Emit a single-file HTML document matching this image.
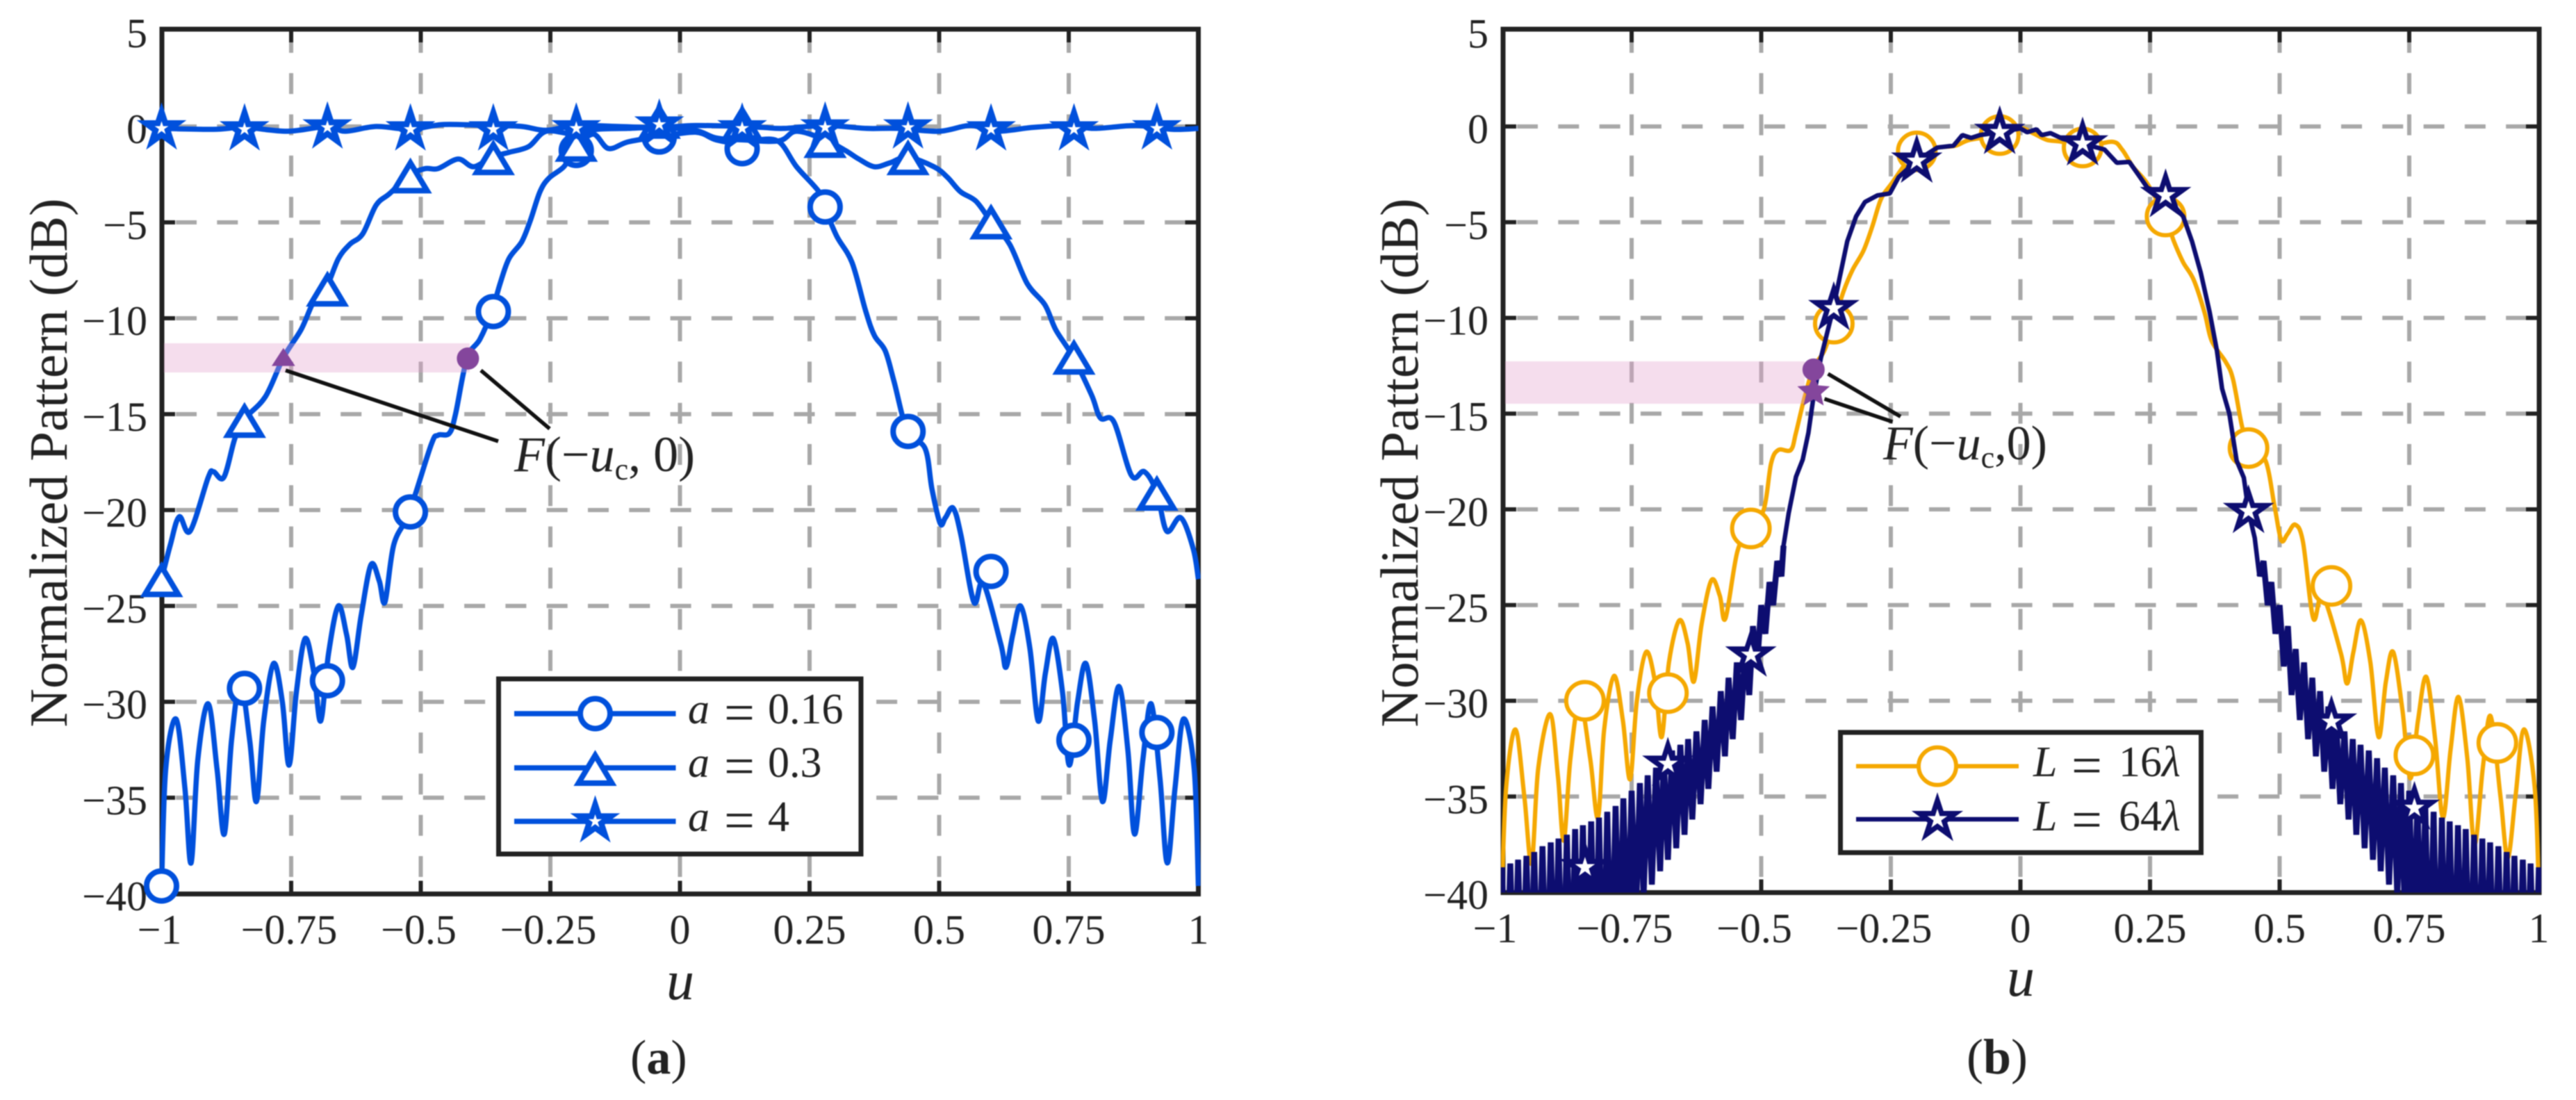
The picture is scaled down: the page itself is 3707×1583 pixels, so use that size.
<!DOCTYPE html>
<html lang="en">
<head>
<meta charset="utf-8">
<title>Normalized Pattern charts</title>
<style>
html,body{margin:0;padding:0;background:#fff;width:3707px;height:1583px;overflow:hidden}
svg{display:block;position:absolute;left:0;top:0;filter:blur(0.9px)}
text{font-family:"Liberation Serif",serif;fill:#222}
</style>
</head>
<body>
<svg id="figure" xmlns="http://www.w3.org/2000/svg" width="3707" height="1583" viewBox="0 0 3707 1583">
<rect width="3707" height="1583" fill="#fff"/>
</svg>
<script>
const xTicks = [-1,-0.75,-0.5,-0.25,0,0.25,0.5,0.75,1];
const xTickLabels = ['\u22121','\u22120.75','\u22120.5','\u22120.25','0','0.25','0.5','0.75','1'];
const yTicks = [5,0,-5,-10,-15,-20,-25,-30,-35,-40];
const yTickLabels = ['5','0','\u22125','\u221210','\u221215','\u221220','\u221225','\u221230','\u221235','\u221240'];
const markerU = [-1,-0.84,-0.68,-0.52,-0.36,-0.2,-0.04,0.12,0.28,0.44,0.6,0.76,0.92];

const a016U = [-1,-0.992,-0.972,-0.955,-0.943,-0.93,-0.91,-0.893,-0.879,-0.865,-0.848,-0.83,-0.817,-0.803,-0.784,-0.767,-0.754,-0.74,-0.723,-0.706,-0.693,-0.678,-0.659,-0.643,-0.631,-0.615,-0.596,-0.58,-0.569,-0.552,-0.522,-0.48,-0.467,-0.445,-0.433,-0.411,-0.386,-0.363,-0.347,-0.33,-0.305,-0.288,-0.27,-0.253,-0.224,-0.204,-0.168,-0.138,-0.1,-0.043,0.03,0.07,0.119,0.15,0.191,0.225,0.268,0.279,0.302,0.332,0.358,0.375,0.396,0.413,0.439,0.473,0.486,0.502,0.512,0.527,0.542,0.567,0.585,0.619,0.629,0.642,0.657,0.675,0.691,0.705,0.72,0.738,0.751,0.767,0.783,0.8,0.815,0.83,0.847,0.864,0.877,0.893,0.909,0.926,0.94,0.955,0.971,0.992,1];
const a016Db = [-39.6,-33.5,-30.9,-34.5,-38.4,-33,-30.1,-33.5,-36.9,-32,-29,-32,-35.2,-31,-28,-30,-33.3,-29.5,-26.7,-28.5,-31,-27.5,-25,-26.5,-28.2,-25.5,-22.85,-23.7,-24.8,-21.8,-20.1,-16.6,-16.1,-16,-15,-12.1,-11.1,-9.65,-8.2,-6.9,-6,-4.85,-3.4,-2.7,-2.1,-1.25,-0.4,-1.15,-0.8,-0.55,-0.3,-0.7,-0.9,-0.7,-0.8,-2.1,-3.4,-4.2,-5.7,-7.1,-9.6,-10.9,-11.7,-13.3,-15.9,-16.8,-18.9,-20.7,-20.4,-19.9,-21.3,-24.8,-23.8,-27,-28.2,-26.5,-25,-27.2,-31,-28.5,-26.7,-29.5,-33.3,-30,-28,-31,-35.2,-32,-29.2,-32.5,-36.9,-33,-30.1,-34,-38.4,-34.5,-30.9,-33.5,-39.6];
const a016Markers = [-39.6,-29.3,-28.9,-20.1,-9.65,-1.25,-0.55,-1.16,-4.2,-15.9,-23.2,-32,-31.6];

const a03U = [-1,-0.983,-0.966,-0.945,-0.91,-0.9,-0.88,-0.859,-0.842,-0.8,-0.765,-0.731,-0.706,-0.683,-0.659,-0.637,-0.612,-0.586,-0.56,-0.522,-0.492,-0.467,-0.428,-0.398,-0.363,-0.33,-0.292,-0.258,-0.204,-0.16,-0.1,-0.043,0.029,0.07,0.12,0.191,0.225,0.28,0.319,0.345,0.375,0.405,0.439,0.49,0.516,0.541,0.571,0.6,0.636,0.67,0.704,0.725,0.758,0.794,0.811,0.837,0.871,0.896,0.92,0.939,0.966,0.99,1];
const a03Db = [-23.6,-21.8,-20.35,-21.1,-18.3,-18,-18.3,-16.3,-15.3,-14.1,-12.05,-10.6,-9.1,-8.45,-6.9,-6.15,-5.6,-4.1,-3.5,-2.55,-2.2,-2.2,-1.7,-2.1,-1.6,-1.35,-1.05,-0.25,-0.4,-0.15,-0.1,-0.05,-0.2,-0.6,-0.7,-0.75,-0.25,-0.7,-1.25,-1.7,-2.1,-1.9,-1.6,-2.1,-2.65,-3.4,-3.9,-4.95,-6.15,-8.2,-9.3,-10.6,-12,-14,-15.2,-15.4,-18.2,-18,-19.1,-21.1,-20.4,-22,-23.6];
const a03Markers = [-23.6,-15.3,-8.45,-2.55,-1.6,-0.9,0.3,0.2,-0.7,-1.6,-4.95,-12,-19.1];

const a4U = [-1,-0.9,-0.84,-0.757,-0.68,-0.646,-0.586,-0.52,-0.458,-0.37,-0.305,-0.258,-0.2,-0.12,-0.04,0.03,0.12,0.16,0.2,0.28,0.36,0.42,0.5,0.56,0.61,0.68,0.75,0.8,0.88,0.95,1];
const a4Db = [-0.1,-0.15,-0.05,-0.25,0,-0.25,0,-0.15,0.1,0.05,0,-0.2,0.05,0,-0.05,0.05,0,-0.05,-0.1,0.05,-0.1,-0.1,-0.25,0.05,-0.25,-0.05,0.05,-0.1,0.05,-0.15,-0.1];
const a4Markers = [-0.1,-0.15,-0.05,-0.15,-0.15,-0.1,0.1,-0.1,-0.05,-0.05,-0.15,-0.15,-0.1];

const orangeU = [-1,-0.992,-0.974,-0.957,-0.943,-0.93,-0.907,-0.892,-0.881,-0.868,-0.85,-0.83,-0.815,-0.803,-0.784,-0.767,-0.753,-0.74,-0.722,-0.705,-0.692,-0.678,-0.658,-0.642,-0.63,-0.615,-0.596,-0.58,-0.569,-0.546,-0.522,-0.495,-0.481,-0.467,-0.443,-0.433,-0.416,-0.399,-0.378,-0.361,-0.341,-0.324,-0.303,-0.286,-0.269,-0.249,-0.201,-0.16,-0.125,-0.098,-0.041,0,0.024,0.051,0.079,0.119,0.176,0.196,0.217,0.245,0.279,0.296,0.314,0.334,0.355,0.369,0.396,0.41,0.427,0.44,0.472,0.49,0.503,0.515,0.53,0.545,0.565,0.583,0.618,0.63,0.642,0.657,0.675,0.691,0.705,0.719,0.737,0.752,0.767,0.783,0.8,0.815,0.83,0.845,0.862,0.876,0.892,0.907,0.926,0.94,0.955,0.971,0.992,1];
const orangeDb = [-39.9,-34.5,-31.5,-35,-38.5,-33.5,-30.7,-34,-37.3,-33,-30,-33,-36.1,-31.5,-28.7,-31,-34.1,-30,-27.45,-29,-31.9,-28,-25.8,-27,-29,-26,-23.7,-24.5,-25.7,-22.2,-21,-20,-17.6,-16.9,-16.9,-16,-14.1,-12.6,-11.7,-10.3,-8.6,-7.5,-6.5,-5.25,-3.8,-3,-1.3,-1.1,-1,-0.7,-0.45,-0.1,-0.35,-0.7,-0.8,-1.1,-0.8,-1.2,-2.1,-3,-4.7,-6,-7.1,-8,-9.7,-11.2,-12.3,-13.2,-15.6,-16.8,-17.4,-19.8,-21.6,-21.3,-20.8,-21.7,-25.7,-24.5,-27.5,-29.1,-27.5,-25.8,-28,-31.9,-29,-27.45,-30.5,-34.05,-31,-28.75,-32,-36.1,-32.5,-29.8,-33,-37.5,-33.5,-30.8,-35,-38.2,-35,-31.5,-34.5,-39.9];
const orangeMarkers = [-41.5,-30,-29.6,-21,-10.3,-1.3,-0.45,-1.1,-4.7,-16.8,-24,-32.85,-32.2];

const navyU = [-1,-0.992,-0.984,-0.977,-0.969,-0.961,-0.953,-0.945,-0.938,-0.93,-0.922,-0.914,-0.906,-0.898,-0.891,-0.883,-0.875,-0.867,-0.859,-0.852,-0.844,-0.836,-0.828,-0.82,-0.813,-0.805,-0.797,-0.789,-0.781,-0.773,-0.766,-0.758,-0.75,-0.742,-0.734,-0.727,-0.719,-0.711,-0.703,-0.695,-0.688,-0.68,-0.672,-0.664,-0.656,-0.648,-0.641,-0.633,-0.625,-0.617,-0.609,-0.602,-0.594,-0.586,-0.578,-0.57,-0.563,-0.555,-0.547,-0.539,-0.531,-0.523,-0.516,-0.508,-0.5,-0.492,-0.484,-0.477,-0.469,-0.461,-0.457,-0.447,-0.433,-0.42,-0.409,-0.399,-0.385,-0.361,-0.348,-0.334,-0.317,-0.3,-0.276,-0.252,-0.235,-0.201,-0.16,-0.129,-0.112,-0.095,-0.078,-0.041,0,0.013,0.031,0.041,0.058,0.082,0.119,0.162,0.186,0.21,0.227,0.245,0.279,0.314,0.331,0.348,0.365,0.379,0.389,0.403,0.417,0.431,0.44,0.452,0.461,0.469,0.477,0.484,0.492,0.5,0.508,0.516,0.523,0.531,0.539,0.547,0.555,0.563,0.57,0.578,0.586,0.594,0.602,0.609,0.617,0.625,0.633,0.641,0.648,0.656,0.664,0.672,0.68,0.688,0.695,0.703,0.711,0.719,0.727,0.734,0.742,0.75,0.758,0.766,0.773,0.781,0.789,0.797,0.805,0.813,0.82,0.828,0.836,0.844,0.852,0.859,0.867,0.875,0.883,0.891,0.898,0.906,0.914,0.922,0.93,0.938,0.945,0.953,0.961,0.969,0.977,0.984,0.992,1];
const navyDb = [-38.7,-46,-38.5,-46,-38.3,-46,-38.1,-46,-37.9,-46,-37.6,-46,-37.4,-46,-37.2,-46,-37,-46,-36.7,-46,-36.5,-46,-36.3,-46,-36.1,-46,-35.8,-45,-35.5,-44,-35.1,-43,-34.7,-41.5,-34.3,-40.2,-33.9,-39.6,-33.5,-38.9,-33,-38.3,-32.6,-37.7,-32.3,-37,-32,-36.2,-31.6,-35.4,-31,-34.6,-30.3,-33.7,-29.5,-32.9,-28.8,-32,-28,-31,-27.3,-29.7,-26.1,-28.2,-25,-26.5,-23.8,-25,-22.7,-23.5,-21.9,-20.2,-18.3,-17.4,-16,-14.1,-12.1,-9.5,-7.8,-6,-4.7,-3.95,-3.6,-3.5,-2.65,-1.8,-1.1,-1,-0.45,-0.6,-0.45,-0.3,-0.1,-0.3,-0.15,-0.45,-0.35,-0.65,-0.9,-1.2,-1.9,-1.85,-2.5,-3.2,-3.6,-4.7,-6,-7.65,-9.7,-11.7,-13.7,-15,-17.45,-18.35,-20.1,-21.5,-23.5,-22.7,-25,-23.8,-26.5,-25,-28.2,-26.1,-29.7,-27.3,-31,-28,-32,-28.8,-32.9,-29.5,-33.7,-30.3,-34.6,-31,-35.4,-31.6,-36.2,-32,-37,-32.3,-37.7,-32.6,-38.3,-33,-38.9,-33.5,-39.6,-33.9,-40.2,-34.3,-41.5,-34.7,-43,-35.1,-44,-35.5,-45,-35.8,-46,-36.1,-46,-36.3,-46,-36.5,-46,-36.7,-46,-37,-46,-37.2,-46,-37.4,-46,-37.6,-46,-37.9,-46,-38.1,-46,-38.3,-46,-38.5,-46,-38.7];
const navyMarkers = [-41.5,-38.7,-33.3,-27.6,-9.5,-1.8,-0.3,-0.9,-3.6,-20.1,-31.1,-35.6,-41.5];

const SVGNS = 'http://www.w3.org/2000/svg';
const root = document.getElementById('figure');
const BLUE = '#0050dc', ORANGE = '#f5a800', NAVY = '#0d0d70', PURPLE = '#84469c';

function el(parent, tag, attrs, txt) {
  const n = document.createElementNS(SVGNS, tag);
  for (const k in attrs) n.setAttribute(k, attrs[k]);
  if (txt !== undefined) n.textContent = txt;
  parent.appendChild(n);
  return n;
}
function smooth(pts) {
  let d = 'M' + pts[0][0].toFixed(1) + ' ' + pts[0][1].toFixed(1);
  for (let i = 0; i < pts.length - 1; i++) {
    const p0 = pts[Math.max(i - 1, 0)], p1 = pts[i], p2 = pts[i + 1], p3 = pts[Math.min(i + 2, pts.length - 1)];
    const c1x = p1[0] + (p2[0] - p0[0]) / 6, c1y = p1[1] + (p2[1] - p0[1]) / 6;
    const c2x = p2[0] - (p3[0] - p1[0]) / 6, c2y = p2[1] - (p3[1] - p1[1]) / 6;
    d += 'C' + c1x.toFixed(1) + ' ' + c1y.toFixed(1) + ' ' + c2x.toFixed(1) + ' ' + c2y.toFixed(1) + ' ' + p2[0].toFixed(1) + ' ' + p2[1].toFixed(1);
  }
  return d;
}
function poly(pts) {
  return 'M' + pts.map(p => p[0].toFixed(1) + ' ' + p[1].toFixed(1)).join('L');
}
function starPts(cx, cy, R, r) {
  const p = [];
  for (let i = 0; i < 10; i++) {
    const ang = -Math.PI / 2 + i * Math.PI / 5, rad = i % 2 ? r : R;
    p.push((cx + rad * Math.cos(ang)).toFixed(1) + ',' + (cy + rad * Math.sin(ang)).toFixed(1));
  }
  return p.join(' ');
}
function triPts(cx, cy, hw, up, down) {
  return cx + ',' + (cy - up) + ' ' + (cx + hw) + ',' + (cy + down) + ' ' + (cx - hw) + ',' + (cy + down);
}
function drawMarker(g, kind, cx, cy, color, sw, scale) {
  let m;
  if (kind === 'circle') {
    m = el(g, 'circle', {cx: cx, cy: cy, r: scale, fill: '#fff', stroke: color, 'stroke-width': sw});
  } else if (kind === 'triangle') {
    m = el(g, 'polygon', {points: triPts(cx, cy, scale, 18, 22), fill: '#fff', stroke: color, 'stroke-width': sw});
  } else {
    m = el(g, 'polygon', {points: starPts(cx, cy, scale, scale * 0.382), fill: '#fff', stroke: color, 'stroke-width': sw, 'stroke-miterlimit': 8});
  }
  return m;
}

function drawPanel(cfg) {
  const xs = u => cfg.x0 + cfg.xk * u;
  const ys = v => cfg.y0 - cfg.yk * v;
  const g = el(root, 'g', {});
  
  
  const clipId = cfg.id + '-clip';
  const defs = el(g, 'defs', {});
  const cp = el(defs, 'clipPath', {id: clipId});
  el(cp, 'rect', {x: cfg.left - 3, y: cfg.top, width: cfg.right - cfg.left + 6, height: cfg.bottom - cfg.top});

  const gridG = el(g, 'g', {stroke: '#a8a8a8', 'stroke-width': 6, 'stroke-dasharray': '30 29.3', fill: 'none'});
  
  
  xTicks.slice(1, -1).forEach(t => {
    const ln = el(gridG, 'line', {x1: xs(t), x2: xs(t), y1: cfg.top + 4, y2: cfg.bottom});
    
    
  });
  yTicks.slice(1, -1).forEach(t => {
    const ln = el(gridG, 'line', {x1: cfg.left + cfg.gridStart, x2: cfg.right, y1: ys(t), y2: ys(t)});
    
    
  });

  const frame = el(g, 'rect', {x: cfg.left, y: cfg.top, width: cfg.right - cfg.left, height: cfg.bottom - cfg.top, fill: 'none', stroke: '#222', 'stroke-width': 7});
  
  

  const tickG = el(g, 'g', {stroke: '#222', 'stroke-width': 6});
  
  
  xTicks.slice(1, -1).forEach(t => {
    el(tickG, 'line', {x1: xs(t), x2: xs(t), y1: cfg.top, y2: cfg.top + 19});
    el(tickG, 'line', {x1: xs(t), x2: xs(t), y1: cfg.bottom, y2: cfg.bottom - 19});
  });
  yTicks.slice(1, -1).forEach(t => {
    el(tickG, 'line', {x1: cfg.left, x2: cfg.left + 19, y1: ys(t), y2: ys(t)});
    el(tickG, 'line', {x1: cfg.right, x2: cfg.right - 19, y1: ys(t), y2: ys(t)});
  });

  yTicks.forEach((t, i) => {
    const lab = el(g, 'text', {x: cfg.left - 21, y: ys(t) + 24, 'text-anchor': 'end', 'font-size': 60}, yTickLabels[i]);
    
    
  });
  xTicks.forEach((t, i) => {
    const off = t < 0 ? cfg.negOffset : 0;
    const lab = el(g, 'text', {x: xs(t) + off, y: cfg.xLabelBase, 'text-anchor': 'middle', 'font-size': 60}, xTickLabels[i]);
    
    
  });

  const yt = el(g, 'text', {transform: 'translate(' + cfg.yTitleX + ',666) rotate(-90)', 'text-anchor': 'middle', 'font-size': 77}, 'Normalized Pattern (dB)');
  
  
  const xt = el(g, 'text', {x: cfg.xTitleX, y: cfg.xTitleY, 'text-anchor': 'middle', 'font-size': 80, 'font-style': 'italic'}, 'u');
  
  

  cfg.series.forEach(s => {
    const sg = el(g, 'g', {});
    
    
    const lines = el(sg, 'g', {'clip-path': 'url(#' + clipId + ')', fill: 'none'});
    const pts = s.u.map((u, i) => [xs(u), ys(s.db[i])]);
    const d = s.straight ? poly(pts) : smooth(pts);
    const pth = el(lines, 'path', {d: d, stroke: s.color, 'stroke-width': s.width, 'stroke-linejoin': s.straight ? 'bevel' : 'round'});
    
    
    if (s.teethBeyond) {
      const leftPts = pts.filter((p, i) => s.u[i] < -s.teethBeyond);
      const rightPts = pts.filter((p, i) => s.u[i] > s.teethBeyond);
      const teeth = el(lines, 'path', {d: poly(leftPts) + poly(rightPts), stroke: s.color, 'stroke-width': s.teethWidth, 'stroke-linejoin': 'bevel'});
      
      
    }
    s.markers.forEach((v, i) => {
      if (v < -40.5) return;
      const m = drawMarker(sg, s.kind, xs(markerU[i]), ys(v), s.color, s.msw, s.msize);
      
      
    });
  });

  const band = el(g, 'rect', {x: cfg.left + 3, y: cfg.band[0], width: cfg.band[2] - cfg.left - 3, height: cfg.band[1] - cfg.band[0], fill: 'rgba(228,160,205,0.36)'});
  
  

  cfg.callouts.forEach(c => {
    const ln = el(g, 'line', {x1: c[0], y1: c[1], x2: c[2], y2: c[3], stroke: '#111', 'stroke-width': 5.5});
    
    
  });
  const dots = el(g, 'g', {fill: PURPLE, stroke: PURPLE, 'stroke-width': 2});
  
  
  cfg.points(dots, xs, ys);

  const label = el(g, 'text', {x: cfg.fx, y: cfg.fy, 'font-size': cfg.fs});
  
  
  el(label, 'tspan', {'font-style': 'italic'}, 'F');
  el(label, 'tspan', {}, '(\u2212');
  el(label, 'tspan', {'font-style': 'italic'}, 'u');
  el(label, 'tspan', {'font-size': 44, dy: 12}, 'c');
  el(label, 'tspan', {dy: -12}, cfg.comma);

  const leg = el(g, 'g', {});
  
  
  const lr = cfg.legend;
  el(leg, 'rect', {x: lr.x1, y: lr.y1, width: lr.x2 - lr.x1, height: lr.y2 - lr.y1, fill: '#fff', stroke: '#222', 'stroke-width': 7});
  lr.entries.forEach((e, i) => {
    const s = cfg.series[i];
    const entry = el(leg, 'g', {});
    
    
    el(entry, 'line', {x1: lr.lx1, x2: lr.lx2, y1: e.y, y2: e.y, stroke: s.color, 'stroke-width': s.legendWidth});
    drawMarker(entry, s.kind, lr.mx, e.y, s.color, s.msw, s.msize);
    el(entry, 'text', {x: lr.vx, y: e.base, 'font-size': 62, 'font-style': 'italic'}, lr.sym);
    el(entry, 'text', {x: lr.eqx, y: e.base + 11, 'font-size': 78}, '=');
    const val = el(entry, 'text', {x: lr.numx, y: e.base, 'font-size': 62});
    val.textContent = e.num;
    if (e.lam) el(val, 'tspan', {'font-style': 'italic'}, '\u03bb');
  });
}

drawPanel({
  id: 'panel-a', x0: 978.5, xk: 746, y0: 182, yk: 27.6,
  left: 233, right: 1724.5, top: 42, bottom: 1286.5, gridStart: 20, negOffset: -3,
  xLabelBase: 1358, yTitleX: 96, xTitleX: 979, xTitleY: 1438,
  band: [494, 536, 676],
  callouts: [[411, 533, 717, 635], [692, 533, 791, 617]],
  fx: 740, fy: 678, fs: 72, comma: ', 0)',
  series: [
    {name: 'a-0-16', u: a016U, db: a016Db, markers: a016Markers, color: BLUE, width: 7.5, kind: 'circle', msw: 8, msize: 21.5, legendWidth: 7.5},
    {name: 'a-0-3', u: a03U, db: a03Db, markers: a03Markers, color: BLUE, width: 7.5, kind: 'triangle', msw: 8, msize: 24, legendWidth: 7.5},
    {name: 'a-4', u: a4U, db: a4Db, markers: a4Markers, color: BLUE, width: 7.5, kind: 'star', msw: 8.5, msize: 24, legendWidth: 7.5}
  ],
  points: (d, xs, ys) => {
    const t = el(d, 'polygon', {points: triPts(xs(-0.765), ys(-12.05), 15, 12, 11)});
    
    
    const c = el(d, 'circle', {cx: xs(-0.409), cy: ys(-12.1), r: 15});
    
    
  },
  legend: {x1: 717.5, y1: 977, x2: 1239, y2: 1229, lx1: 740, lx2: 972.5, mx: 856.5, sym: 'a', vx: 990, eqx: 1042, numx: 1105,
    entries: [{y: 1027, base: 1041, num: '0.16'}, {y: 1105, base: 1118, num: '0.3'}, {y: 1182, base: 1196, num: '4'}]}
});

drawPanel({
  id: 'panel-b', x0: 2907.5, xk: 746, y0: 182, yk: 27.55,
  left: 2163, right: 3654, top: 42, bottom: 1284.5, gridStart: 20, negOffset: -10,
  xLabelBase: 1356, yTitleX: 2040, xTitleX: 2908, xTitleY: 1433,
  band: [520, 581, 2597],
  callouts: [[2630.6, 538, 2735, 599.5], [2625.5, 574, 2723.5, 607]],
  fx: 2710, fy: 661, fs: 70, comma: ',0)',
  series: [
    {name: 'l-16-lambda', u: orangeU, db: orangeDb, markers: orangeMarkers, color: ORANGE, width: 6.2, kind: 'circle', msw: 6, msize: 27, legendWidth: 6.2},
    {name: 'l-64-lambda', u: navyU, db: navyDb, markers: navyMarkers, color: NAVY, width: 6.5, kind: 'star', msw: 7.4, msize: 27, legendWidth: 6.5, straight: true, teethBeyond: 0.455, teethWidth: 8.5}
  ],
  points: (d, xs, ys) => {
    const s = el(d, 'polygon', {points: starPts(xs(-0.399), ys(-13.85), 22, 10)});
    
    
    const c = el(d, 'circle', {cx: xs(-0.399), cy: ys(-12.7), r: 15});
    
    
  },
  legend: {x1: 2648.5, y1: 1054, x2: 3167.5, y2: 1227, lx1: 2671, lx2: 2905, mx: 2788, sym: 'L', vx: 2926, eqx: 2981, numx: 3049,
    entries: [{y: 1102.6, base: 1117, num: '16', lam: true}, {y: 1179, base: 1195, num: '64', lam: true}]}
});

const capA = el(root, 'text', {x: 907, y: 1545, 'font-size': 70, fill: '#000'});


el(capA, 'tspan', {}, '(');
el(capA, 'tspan', {'font-weight': 'bold'}, 'a');
el(capA, 'tspan', {}, ')');
const capB = el(root, 'text', {x: 2830, y: 1545, 'font-size': 72, fill: '#000'});


el(capB, 'tspan', {}, '(');
el(capB, 'tspan', {'font-weight': 'bold'}, 'b');
el(capB, 'tspan', {}, ')');
</script>
</body>
</html>
